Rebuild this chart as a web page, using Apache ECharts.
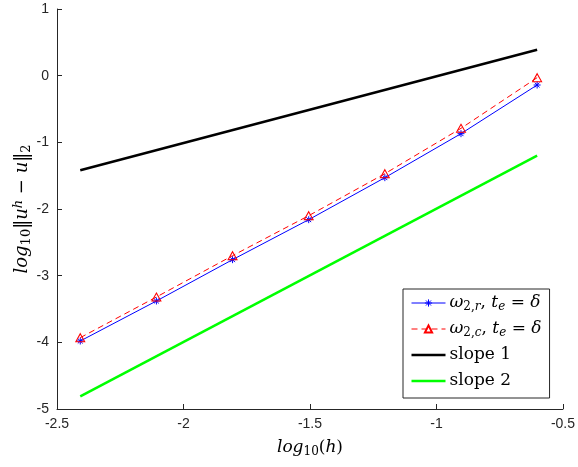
<!DOCTYPE html>
<html>
<head>
<meta charset="utf-8">
<script src="https://cdn.jsdelivr.net/npm/echarts@6/dist/echarts.min.js"></script>
<style>
  html, body { margin: 0; padding: 0; background: #fff; }
  #chart { width: 578px; height: 467px; }
</style>
</head>
<body>
<div id="chart"></div>
<script>
// log10 of the mesh size h = 1/4 ... 1/256
var logH = [-2.408, -2.107, -1.806, -1.505, -1.204, -0.903, -0.602];

// log10 of the L2 error for the two variants
var errR = [-3.98, -3.38, -2.76, -2.16, -1.53, -0.87, -0.14];
var errC = [-3.93, -3.32, -2.70, -2.10, -1.47, -0.79, -0.03];

// reference slope lines (end points)
var slope1X = [-2.408, -0.602];
var slope1Y = [-1.42, 0.39];
var slope2X = [-2.408, -0.602];
var slope2Y = [-4.81, -1.20];

var xTicks = { min: -2.5, max: -0.5, step: 0.5 };
var yTicks = { min: -5, max: 1, step: 1 };

function pairs(xs, ys) {
  return xs.map(function (x, i) { return [x, ys[i]]; });
}

var serif = '"DejaVu Serif", "Liberation Serif", serif';
var sans = '"Liberation Sans", Arial, sans-serif';
var axisColor = '#262626';

// rich-text styles for math-like labels (italic symbols, sub/superscripts)
function mathStyles(big, small, shift) {
  return {
    m: { fontFamily: serif, fontStyle: 'italic', fontSize: big, color: '#000', lineHeight: big + 5 },
    u: { fontFamily: serif, fontSize: big, color: '#000', lineHeight: big + 5 },
    s: { fontFamily: serif, fontStyle: 'italic', fontSize: small, color: '#000', lineHeight: small + 2, padding: [shift, 0, 0, 0] },
    sn: { fontFamily: serif, fontSize: small, color: '#000', lineHeight: small + 2, padding: [shift, 0, 0, 0] },
    p: { fontFamily: serif, fontStyle: 'italic', fontSize: small, color: '#000', lineHeight: small + 2, padding: [0, 0, shift, 0] }
  };
}
var mathRich = mathStyles(17, 12, 8);
var yNameRich = mathStyles(18, 13, 8);

var asterisk = 'path://M0,-5L0,5M-5,0L5,0M-3.5,-3.5L3.5,3.5M-3.5,3.5L3.5,-3.5';
// plain thick bar used as legend key for the slope lines
var barIcon = 'path://M0,0M34,9M0,3.25L34,3.25L34,5.75L0,5.75Z';

var chart = echarts.init(document.getElementById('chart'), null, { renderer: 'canvas' });

var legendNames = {
  r: '{m|ω}{sn|2,}{s|r}{u|, }{m|t}{s|e}{u| = }{m|δ}',
  c: '{m|ω}{sn|2,}{s|c}{u|, }{m|t}{s|e}{u| = }{m|δ}',
  s1: '{u|slope 1}',
  s2: '{u|slope 2}'
};

chart.setOption({
  animation: false,
  backgroundColor: '#fff',
  grid: { left: 57, right: 14, top: 9, bottom: 58, containLabel: false },
  xAxis: {
    type: 'value',
    min: xTicks.min, max: xTicks.max, interval: xTicks.step,
    name: '{m|log}{sn|10}{u|(}{m|h}{u|)}',
    nameLocation: 'middle',
    nameGap: 28,
    nameMoveOverlap: false,
    nameTextStyle: { rich: mathRich },
    axisLine: { show: true, onZero: false, lineStyle: { color: axisColor, width: 1 } },
    axisTick: { inside: true, length: 5, lineStyle: { color: axisColor } },
    axisLabel: { color: axisColor, fontFamily: sans, fontSize: 14, margin: 8 },
    splitLine: { show: false }
  },
  yAxis: {
    type: 'value',
    min: yTicks.min, max: yTicks.max, interval: yTicks.step,
    name: '{m|log}{sn|10}{u|‖}{m|u}{p|h}{u| − }{m|u}{u|‖}{sn|2}',
    nameLocation: 'middle',
    nameRotate: 90,
    nameGap: 23,
    nameMoveOverlap: false,
    nameTextStyle: { rich: yNameRich },
    axisLine: { show: true, onZero: false, lineStyle: { color: axisColor, width: 1 } },
    axisTick: { inside: true, length: 5, lineStyle: { color: axisColor } },
    axisLabel: { color: axisColor, fontFamily: sans, fontSize: 14, margin: 8 },
    splitLine: { show: false }
  },
  legend: {
    orient: 'vertical',
    left: 403,
    top: 289,
    padding: [3, 8, 6, 8],
    itemGap: 4,
    itemWidth: 34,
    itemHeight: 9,
    backgroundColor: '#fff',
    borderColor: '#262626',
    borderWidth: 1,
    borderRadius: 0,
    data: [
      { name: 'r', lineStyle: { width: 1 }, itemStyle: { color: '#0000ff', borderColor: '#0000ff', borderWidth: 1 } },
      { name: 'c', lineStyle: { width: 1 } },
      { name: 's1', icon: barIcon },
      { name: 's2', icon: barIcon }
    ],
    formatter: function (name) { return legendNames[name]; },
    textStyle: { rich: mathRich, lineHeight: 22, padding: [0, 0, 0, -1] }
  },
  series: [
    {
      name: 'r',
      type: 'line',
      data: pairs(logH, errR),
      symbol: asterisk,
      symbolSize: 7,
      showAllSymbol: true,
      lineStyle: { color: '#0000ff', width: 1 },
      itemStyle: { color: '#0000ff', borderColor: '#0000ff', borderWidth: 1 },
      z: 2
    },
    {
      name: 'c',
      type: 'line',
      data: pairs(logH, errC),
      symbol: 'triangle',
      symbolSize: [9, 8],
      showAllSymbol: true,
      lineStyle: { color: '#ff0000', width: 1, type: [6, 4] },
      itemStyle: { color: 'rgba(255,255,255,0)', borderColor: '#ff0000', borderWidth: 1 },
      z: 3
    },
    {
      name: 's1',
      type: 'line',
      data: pairs(slope1X, slope1Y),
      symbol: 'none',
      lineStyle: { color: '#000000', width: 2.5 },
      itemStyle: { color: '#000000' },
      z: 4
    },
    {
      name: 's2',
      type: 'line',
      data: pairs(slope2X, slope2Y),
      symbol: 'none',
      lineStyle: { color: '#00ff00', width: 2.5 },
      itemStyle: { color: '#00ff00' },
      z: 5
    }
  ]
});
</script>
</body>
</html>
